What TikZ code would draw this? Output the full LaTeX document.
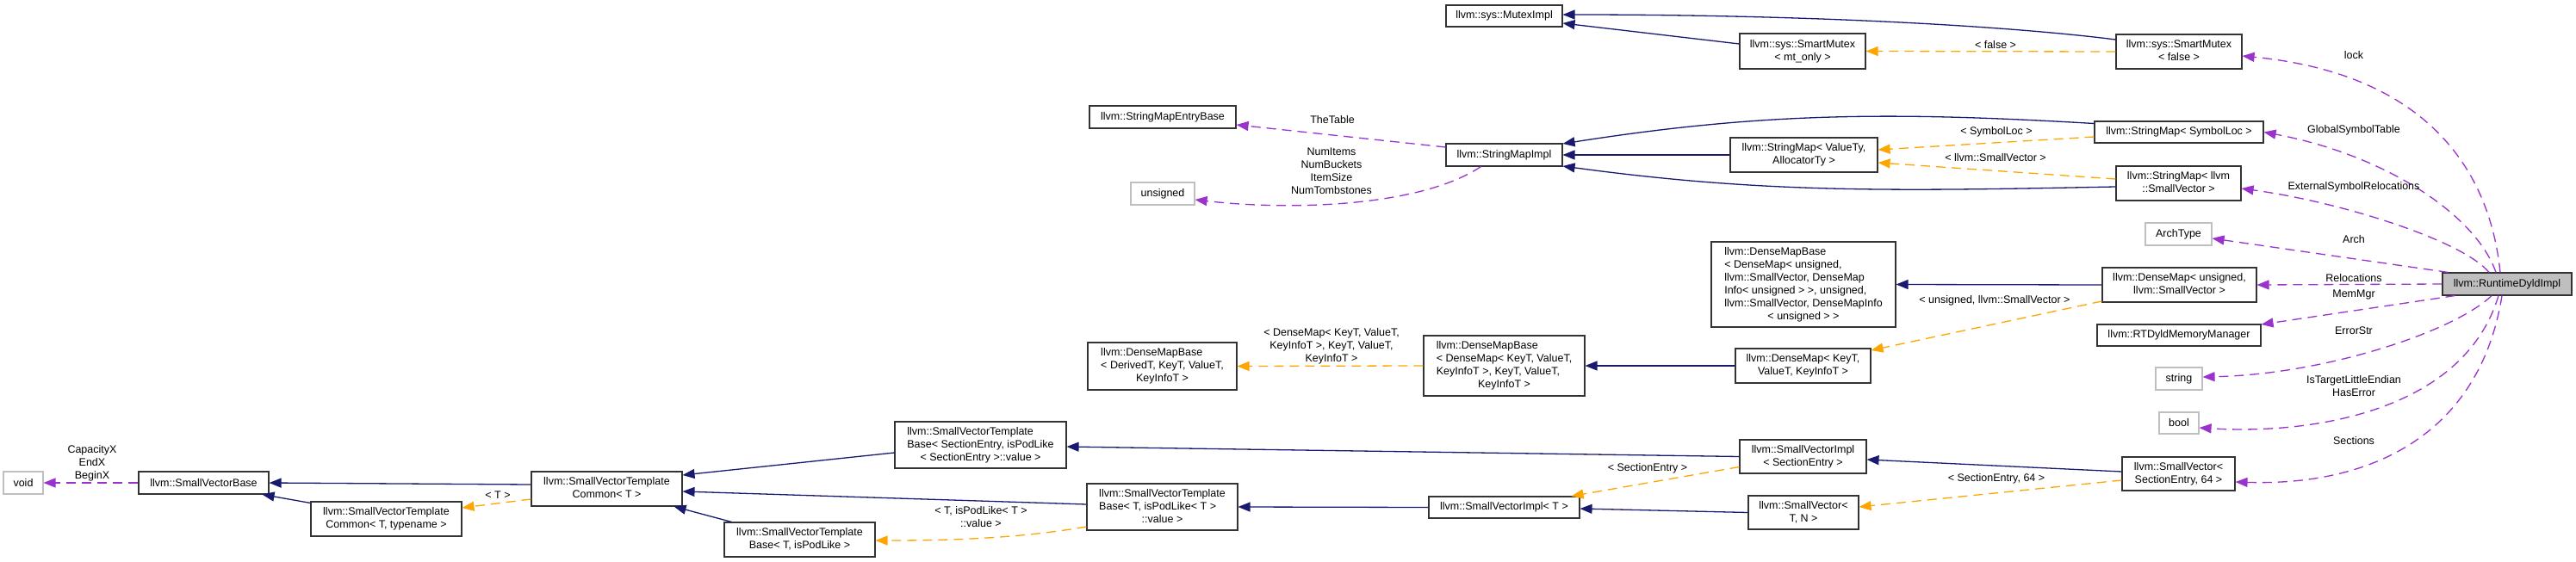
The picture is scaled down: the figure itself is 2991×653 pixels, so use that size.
\documentclass[tikz,border=0pt]{standalone}
\usepackage{fontspec}
\setmainfont{Liberation Sans}
\usetikzlibrary{arrows.meta}
\definecolor{navyc}{HTML}{191970}
\definecolor{orangec}{HTML}{FFA500}
\definecolor{purplec}{HTML}{9A32CD}
\definecolor{grayb}{HTML}{BFBFBF}
\newcommand{\ml}[2]{\begin{tabular}{@{}l@{}}#1\\\multicolumn{1}{@{}c@{}}{#2}\end{tabular}}
\newcommand{\dfont}{\fontsize{12.5}{15}\selectfont}
\tikzset{
  cls/.style={draw=black!80, line width=1.1pt, fill=white, inner sep=0pt, font=\dfont, align=center},
  ext/.style={cls, draw=grayb},
  main/.style={cls, fill=grayb},
  lbl/.style={font=\dfont, align=center, inner sep=0pt},
  inh/.style={draw=navyc, line width=1.3pt, -{Triangle[length=14pt,width=11pt,fill=navyc]}},
  tpl/.style={draw=orangec, line width=1.3pt, dash pattern=on 11pt off 7pt, -{Triangle[length=14pt,width=11pt,fill=orangec]}},
  use/.style={draw=purplec, line width=1.3pt, dash pattern=on 11pt off 7pt, -{Triangle[length=14pt,width=11pt,fill=purplec]}}
}
\begin{document}
\begin{tikzpicture}[x=1pt,y=-1pt]
\useasboundingbox (0,0) rectangle (2991,653);
\fill[white] (0,0) rectangle (2991,653);

% nodes
\node[ext, minimum width=46pt, minimum height=26pt] (void) at (27,561) {void};
\node[cls, minimum width=151pt, minimum height=26pt] (svbase) at (236.5,561) {llvm::SmallVectorBase};
\node[cls, minimum width=175pt, minimum height=40pt] (svtct) at (448.5,603) {\ml{llvm::SmallVectorTemplate}{Common< T, typename >}};
\node[cls, minimum width=175pt, minimum height=40pt] (svtc) at (704.5,568) {\ml{llvm::SmallVectorTemplate}{Common< T >}};
\node[cls, minimum width=199pt, minimum height=54pt] (svtbse) at (1138.5,517) {\ml{llvm::SmallVectorTemplate\\Base< SectionEntry, isPodLike}{< SectionEntry >::value >}};
\node[cls, minimum width=175pt, minimum height=40pt] (svtbtp) at (928.5,627) {\ml{llvm::SmallVectorTemplate}{Base< T, isPodLike >}};
\node[cls, minimum width=175pt, minimum height=54pt] (svtbtv) at (1349.5,589) {\ml{llvm::SmallVectorTemplate\\Base< T, isPodLike< T >}{::value >}};
\node[cls, minimum width=173pt, minimum height=55pt] (dmbd) at (1349.5,425.5) {\ml{llvm::DenseMapBase\\< DerivedT, KeyT, ValueT,}{KeyInfoT >}};
\node[cls, minimum width=170pt, minimum height=26pt] (smeb) at (1350,136) {llvm::StringMapEntryBase};
\node[ext, minimum width=74pt, minimum height=26pt] (unsigned) at (1350,225) {unsigned};
\node[cls, minimum width=135pt, minimum height=25pt] (mutex) at (1746.5,18.5) {llvm::sys::MutexImpl};
\node[cls, minimum width=135pt, minimum height=26pt] (smimpl) at (1746.5,180) {llvm::StringMapImpl};
\node[cls, minimum width=187pt, minimum height=70pt] (dmbk) at (1746.5,425) {\ml{llvm::DenseMapBase\\< DenseMap< KeyT, ValueT,\\KeyInfoT >, KeyT, ValueT,}{KeyInfoT >}};
\node[cls, minimum width=175pt, minimum height=25pt] (svimplT) at (1746.5,589.5) {llvm::SmallVectorImpl< T >};
\node[cls, minimum width=146pt, minimum height=41pt] (smtmut) at (2093,59.5) {\ml{llvm::sys::SmartMutex}{< mt\_only >}};
\node[cls, minimum width=171pt, minimum height=40pt] (smvt) at (2094.5,180) {\ml{llvm::StringMap< ValueTy,}{AllocatorTy >}};
\node[cls, minimum width=214pt, minimum height=99pt] (dmbu) at (2094,330.5) {\ml{llvm::DenseMapBase\\< DenseMap< unsigned,\\ llvm::SmallVector, DenseMap\\Info< unsigned > >, unsigned,\\ llvm::SmallVector, DenseMapInfo}{< unsigned > >}};
\node[cls, minimum width=157pt, minimum height=40pt] (dmk) at (2093.5,425) {\ml{llvm::DenseMap< KeyT,}{ValueT, KeyInfoT >}};
\node[cls, minimum width=147pt, minimum height=39pt] (svimplse) at (2093.5,530.5) {\ml{llvm::SmallVectorImpl}{< SectionEntry >}};
\node[cls, minimum width=128pt, minimum height=39pt] (svTN) at (2094,595.5) {\ml{llvm::SmallVector<}{T, N >}};
\node[cls, minimum width=146pt, minimum height=40pt] (smfalse) at (2530,60) {\ml{llvm::sys::SmartMutex}{< false >}};
\node[cls, minimum width=196pt, minimum height=25pt] (smsym) at (2530,153.5) {llvm::StringMap< SymbolLoc >};
\node[cls, minimum width=145pt, minimum height=40pt] (smsv) at (2529.5,213) {\ml{llvm::StringMap< llvm}{::SmallVector >}};
\node[ext, minimum width=77pt, minimum height=26pt] (arch) at (2529.5,272) {ArchType};
\node[cls, minimum width=179pt, minimum height=40pt] (dmu) at (2530.5,331) {\ml{llvm::DenseMap< unsigned,}{llvm::SmallVector >}};
\node[cls, minimum width=190pt, minimum height=25pt] (rtdyld) at (2530,389.5) {llvm::RTDyldMemoryManager};
\node[ext, minimum width=54pt, minimum height=26pt] (string) at (2530,440) {string};
\node[ext, minimum width=46pt, minimum height=25pt] (bool) at (2530,491.5) {bool};
\node[cls, minimum width=131pt, minimum height=39pt] (svse64) at (2529.5,550.5) {\ml{llvm::SmallVector<}{SectionEntry, 64 >}};
\node[main, minimum width=150pt, minimum height=26pt] (rdi) at (2911,330) {llvm::RuntimeDyldImpl};

% inheritance
\draw[inh] ([yshift=-2pt]svtct.north west) -- ([xshift=-8pt]svbase.south east);
\draw[inh] ([yshift=5pt]svtc.west) -- (svbase.east);
\draw[inh] ([yshift=-9pt]svtbse.west) -- ([yshift=16pt]svtc.east);
\draw[inh] ([yshift=3pt]svtbtv.west) -- ([yshift=-3pt]svtc.east);
\draw[inh] ([xshift=9pt]svtbtp.north west) -- ([xshift=-10pt]svtc.south east);
\draw[inh] (svimplT.west) -- (svtbtv.east);
\draw[inh] (svimplse.west) -- ([yshift=-2pt]svtbse.east);
\draw[inh] (svTN.west) -- ([yshift=-1.5pt]svimplT.east);
\draw[inh] ([yshift=2.5pt]svse64.west) -- ([yshift=-3.5pt]svimplse.east);
\draw[inh] (dmk.west) -- (dmbk.east);
\draw[inh] (dmu.west) -- (dmbu.east);
\draw[inh] ([yshift=8.5pt]smtmut.west) -- ([yshift=-8.5pt]mutex.east);
\draw[inh] ([yshift=14pt]smfalse.west) .. controls (2330,30) and (2100,17) .. ([yshift=1.5pt]mutex.east);
\draw[inh] (smvt.west) -- (smimpl.east);
\draw[inh] ([yshift=10pt]smsym.west) .. controls (2200,130) and (2050,130) .. ([yshift=13pt]smimpl.east);
\draw[inh] ([yshift=-4pt]smsv.west) .. controls (2200,222) and (2050,225) .. ([yshift=-13pt]smimpl.east);

% template instances
\draw[tpl] ([yshift=-12pt]svtc.west) -- ([yshift=13pt]svtct.east);
\node[lbl] (lT) at (578,575) {< T >};
\draw[tpl] ([yshift=-23pt]svtbtv.west) .. controls (1180,626) and (1100,628) .. ([yshift=-1pt]svtbtp.east);
\node[lbl] (lpod) at (1139,600.5) {< T, isPodLike< T >\\::value >};
\draw[tpl] (dmbk.west) -- (dmbd.east);
\node[lbl] (ldm) at (1546,402.5) {< DenseMap< KeyT, ValueT,\\KeyInfoT >, KeyT, ValueT,\\KeyInfoT >};
\draw[tpl] ([yshift=-19pt]dmu.west) -- ([yshift=18pt]dmk.east);
\node[lbl] (lus) at (2316,349) {< unsigned, llvm::SmallVector >};
\draw[tpl] ([yshift=-12pt]svimplse.west) -- ([xshift=-10pt]svimplT.north east);
\node[lbl] (lse) at (1913,544) {< SectionEntry >};
\draw[tpl] ([yshift=-7.5pt]svse64.west) -- ([yshift=6.5pt]svTN.east);
\node[lbl] (lse64) at (2318,556) {< SectionEntry, 64 >};
\draw[tpl] (smfalse.west) -- (smtmut.east);
\node[lbl] (lfalse) at (2317,52) {< false >};
\draw[tpl] ([yshift=-5.5pt]smsym.west) -- ([yshift=6pt]smvt.east);
\node[lbl] (lsym) at (2318,153) {< SymbolLoc >};
\draw[tpl] ([yshift=5pt]smsv.west) -- ([yshift=-9pt]smvt.east);
\node[lbl] (lsv) at (2317,183) {< llvm::SmallVector >};

% usage
\draw[use] (svbase.west) -- (void.east);
\node[lbl] (lcap) at (107,538) {CapacityX\\EndX\\BeginX};
\draw[use] ([yshift=9pt]smimpl.west) -- ([yshift=-9pt]smeb.east);
\node[lbl] (ltab) at (1547,139) {TheTable};
\draw[use] ([xshift=-27pt]smimpl.south) .. controls (1650,240) and (1500,245) .. ([yshift=-7pt]unsigned.east);
\node[lbl] (lnum) at (1546,198.5) {NumItems\\NumBuckets\\ItemSize\\NumTombstones};
\draw[use] ([xshift=-8pt]rdi.north) .. controls (2890,190) and (2810,85) .. ([yshift=-5pt]smfalse.east);
\node[lbl] (llock) at (2733,64) {lock};
\draw[use] ([xshift=-13pt]rdi.north) .. controls (2875,250) and (2770,180) .. (smsym.east);
\node[lbl] (lgst) at (2733,151) {GlobalSymbolTable};
\draw[use] ([xshift=-21pt]rdi.north) .. controls (2860,280) and (2720,235) .. ([yshift=-6pt]smsv.east);
\node[lbl] (lesr) at (2733,217) {ExternalSymbolRelocations};
\draw[use] ([xshift=7pt]rdi.north west) -- ([yshift=-5pt]arch.east);
\node[lbl] (larch) at (2733,278) {Arch};
\draw[use] (rdi.west) -- (dmu.east);
\node[lbl] (lrel) at (2733,323) {Relocations};
\draw[use] ([xshift=15pt]rdi.south west) -- ([yshift=12.5pt]rtdyld.east);
\node[lbl] (lmem) at (2733,342) {MemMgr};
\draw[use] ([xshift=-18pt]rdi.south) .. controls (2850,385) and (2700,435) .. ([yshift=2pt]string.east);
\node[lbl] (lerr) at (2733,384) {ErrorStr};
\draw[use] ([xshift=-10pt]rdi.south) .. controls (2860,480) and (2680,505) .. ([yshift=-5.5pt]bool.east);
\node[lbl] (lbool) at (2733,448.5) {IsTargetLittleEndian\\HasError};
\draw[use] ([xshift=-6pt]rdi.south) .. controls (2880,500) and (2760,565) .. ([yshift=-9.5pt]svse64.east);
\node[lbl] (lsec) at (2733,512) {Sections};
\end{tikzpicture}
\end{document}
